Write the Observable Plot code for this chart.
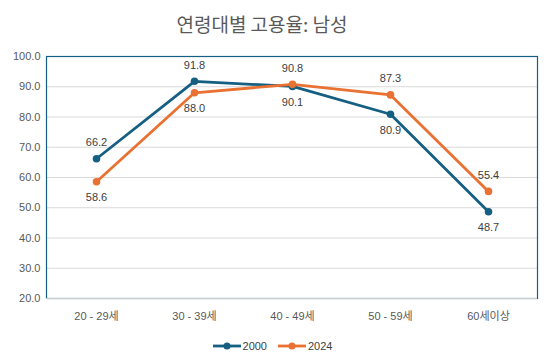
<!DOCTYPE html>
<html><head><meta charset="utf-8">
<script src="https://cdn.jsdelivr.net/npm/d3@7"></script>
<script src="https://cdn.jsdelivr.net/npm/@observablehq/plot@0.6"></script>
<style>
body{margin:0;background:#fff;font-family:"Liberation Sans","Noto Sans CJK KR",sans-serif;}
#wrap{width:548px;height:363px;overflow:hidden;}
#title{height:44px;line-height:48px;text-align:center;font-size:19px;color:#595959;font-family:"Noto Sans CJK KR","Liberation Sans",sans-serif;padding-right:24px;box-sizing:border-box;}
#legend{height:29px;display:flex;justify-content:center;align-items:center;font-size:11px;color:#404040;gap:10px;padding-right:4px;padding-bottom:5px;box-sizing:border-box;}
.item{display:flex;align-items:center;gap:1px;}
</style></head>
<body><div id="wrap"><div id="title">연령대별 고용율: 남성</div><div id="chart"></div><div id="legend"></div></div>
<script>
const categories = ["20 - 29세","30 - 39세","40 - 49세","50 - 59세","60세이상"];
const series = ["2000","2024"];
const values2000 = [66.2, 91.8, 90.1, 80.9, 48.7];
const values2024 = [58.6, 88.0, 90.8, 87.3, 55.4];
const labelPos2000 = ["above","above","below","below","below"];
const labelPos2024 = ["below","below","above","above","above"];
const yTicks = [20,30,40,50,60,70,80,90,100];
const colors = ["#156082","#E97132"];

const data = [];
categories.forEach((c,i)=>{
  data.push({cat:c, s:"2000", v:values2000[i], pos:labelPos2000[i]});
  data.push({cat:c, s:"2024", v:values2024[i], pos:labelPos2024[i]});
});

const chart = Plot.plot({
  width:548, height:290,
  marginTop:12, marginBottom:36, marginLeft:46, marginRight:11,
  style:{fontFamily:'"Liberation Sans","Noto Sans CJK KR",sans-serif', fontSize:"11px", color:"#595959", background:"#fff"},
  x:{type:"point", domain:categories, padding:0.5, label:null},
  y:{domain:[20,100], ticks:yTicks, label:null},
  color:{domain:series, range:colors},
  marks:[
    Plot.gridY(yTicks, {stroke:"#d9d9d9", strokeOpacity:1, strokeWidth:1}),
    Plot.frame({stroke:"#156082", strokeWidth:1.2}),
    Plot.ruleY([20], {stroke:"#d0d0d0", strokeWidth:1.2}),
    Plot.axisY({ticks:yTicks, tickSize:0, tickPadding:6, tickFormat:d=>d.toFixed(1), fill:"#595959", fontSize:11}),
    Plot.axisX({tickSize:0, tickPadding:14, fill:"#595959", fontSize:11}),
    Plot.line(data, {x:"cat", y:"v", z:"s", stroke:"s", strokeWidth:2.8}),
    Plot.dot(data, {x:"cat", y:"v", fill:"s", r:3.8}),
    Plot.text(data.filter(d=>d.pos==="above"), {x:"cat", y:"v", text:d=>d.v.toFixed(1), dy:-16, fill:"#404040", fontSize:11}),
    Plot.text(data.filter(d=>d.pos==="below"), {x:"cat", y:"v", text:d=>d.v.toFixed(1), dy:16, fill:"#404040", fontSize:11})
  ]
});
document.getElementById("chart").appendChild(chart);

const legend = document.getElementById("legend");
series.forEach((s,i)=>{
  const item = document.createElement("div");
  item.className="item";
  item.innerHTML = `<svg width="30" height="10"><line x1="1" y1="5" x2="29" y2="5" stroke="${colors[i]}" stroke-width="2.8"/><circle cx="15" cy="5" r="3.5" fill="${colors[i]}"/></svg><span>${s}</span>`;
  legend.appendChild(item);
});
</script></body></html>
